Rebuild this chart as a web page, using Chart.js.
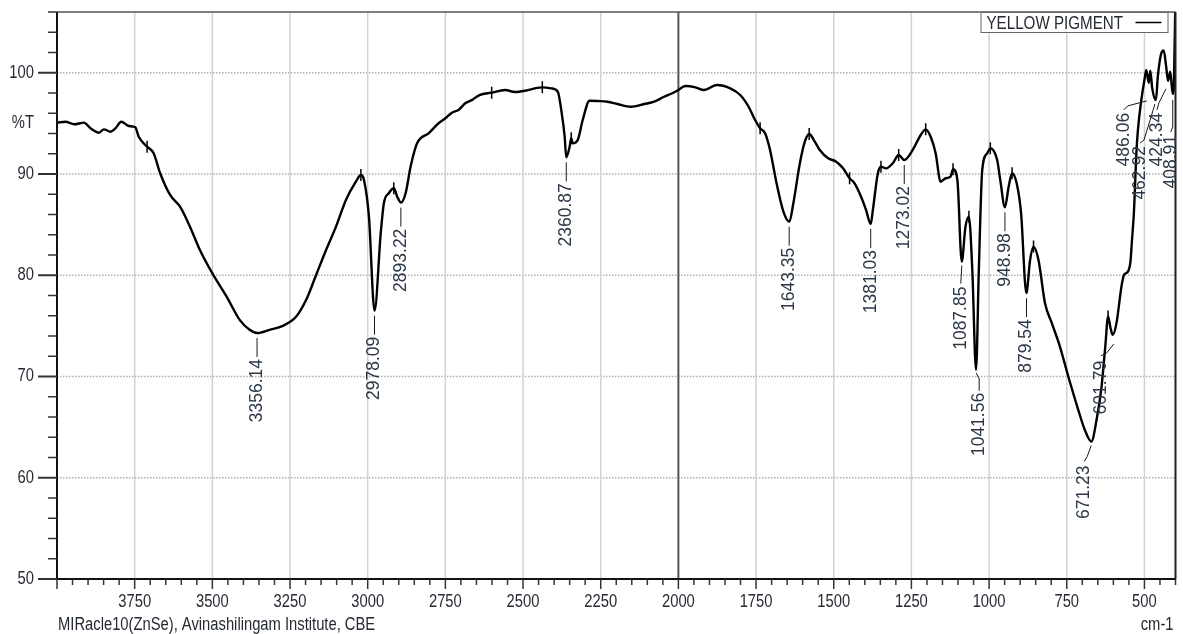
<!DOCTYPE html>
<html>
<head>
<meta charset="utf-8">
<title>FTIR - Yellow Pigment</title>
<script src="https://cdn.jsdelivr.net/npm/chart.js@4.4.1/dist/chart.umd.min.js"></script>
<style>
  html, body { margin: 0; padding: 0; background: #fff; }
  #wrap { width: 1183px; height: 634px; }
</style>
</head>
<body>
<div id="wrap"><canvas id="ftirChart" width="1183" height="634"></canvas></div>
<script>
// spectrum (cm-1 / %T)
const wavenumbers = [
  4000, 3972, 3945, 3913, 3892, 3865, 3849, 3828, 3812, 3793, 3769, 3748, 3737, 3710, 3689, 3668,
  3636, 3604, 3572, 3540, 3497, 3454, 3412, 3380, 3356, 3316, 3273, 3230, 3198, 3166, 3134, 3102,
  3070, 3038, 3022, 3012, 2996, 2978, 2958, 2948, 2932, 2916, 2905, 2893, 2878, 2862, 2841, 2804,
  2772, 2750, 2729, 2708, 2686, 2665, 2640, 2601, 2558, 2526, 2494, 2462, 2438, 2409, 2388, 2377,
  2366, 2361, 2350, 2345, 2340, 2324, 2308, 2286, 2260, 2228, 2196, 2153, 2110, 2078, 2046, 2025,
  2004, 1977, 1945, 1918, 1876, 1833, 1801, 1774, 1753, 1737, 1721, 1705, 1684, 1662, 1643, 1630,
  1609, 1593, 1579, 1561, 1545, 1518, 1492, 1470, 1449, 1433, 1412, 1396, 1381, 1374, 1358, 1348,
  1332, 1310, 1291, 1273, 1246, 1220, 1204, 1188, 1172, 1156, 1140, 1124, 1116, 1102, 1088, 1076,
  1065, 1054, 1042, 1033, 1022, 1006, 996, 974, 964, 949, 937, 926, 910, 897, 880, 868,
  857, 841, 820, 798, 772, 745, 713, 692, 671, 654, 638, 626, 617, 609, 602, 590,
  574, 566, 553, 545, 540, 534, 532, 526, 521, 510, 500, 494, 486, 481, 475, 463,
  457, 446, 438, 430, 424, 417, 409, 405, 400
];
const transmittance = [
  95.07, 95.16, 94.91, 95.07, 94.51, 94.08, 94.41, 94.18, 94.51, 95.16, 94.74, 94.61, 93.68, 92.70, 92.05, 90.07,
  87.93, 86.77, 84.80, 82.50, 80.03, 77.89, 75.59, 74.61, 74.30, 74.61, 75.00, 75.92, 77.57, 80.03, 82.50, 84.80,
  87.44, 89.24, 89.90, 89.41, 85.79, 76.50, 84.15, 87.11, 88.10, 88.59, 87.76, 87.17, 88.10, 90.72, 93.03, 94.02,
  95.01, 95.50, 96.05, 96.32, 96.98, 97.30, 97.80, 98.03, 98.29, 98.10, 98.22, 98.46, 98.56, 98.46, 98.12, 96.32,
  93.68, 91.65, 92.70, 93.53, 93.03, 93.36, 95.33, 97.24, 97.21, 97.14, 96.91, 96.64, 96.91, 97.14, 97.63, 97.90,
  98.22, 98.69, 98.56, 98.29, 98.79, 98.46, 97.80, 96.64, 95.33, 94.51, 94.02, 92.37, 89.08, 86.28, 85.29, 87.11,
  91.06, 93.19, 93.95, 93.19, 92.37, 91.55, 91.22, 90.56, 89.58, 89.08, 87.76, 86.45, 85.07, 86.45, 90.07, 90.72,
  90.56, 91.06, 91.88, 91.38, 92.37, 93.85, 94.41, 93.68, 92.05, 89.24, 89.58, 89.74, 90.47, 89.41, 81.35, 84.80,
  85.79, 80.53, 70.66, 80.53, 90.40, 92.05, 92.54, 91.38, 89.41, 86.72, 88.75, 90.07, 88.92, 86.12, 78.23, 81.51,
  82.83, 81.51, 77.24, 75.27, 72.96, 70.00, 66.71, 64.74, 63.58, 65.72, 69.01, 72.96, 75.92, 74.77, 74.11, 75.27,
  78.88, 80.03, 80.36, 81.35, 83.49, 86.12, 87.44, 92.05, 94.34, 97.31, 99.28, 100.27, 99.00, 100.20, 98.50, 97.30,
  99.60, 101.90, 102.20, 100.60, 99.20, 100.10, 97.90, 99.00, 108.0
];

// little peak-pick ticks sitting on the trace
const markerWn = [3710, 3022, 2916, 2601, 2438, 2345, 1737, 1579, 1449, 1348, 1291, 1204, 1116, 1065, 996, 926, 857, 617];
const markerT = [92.70, 89.90, 88.59, 98.03, 98.56, 93.53, 94.51, 93.95, 89.58, 90.72, 91.88, 94.41, 90.47, 85.79, 92.54, 90.07, 82.83, 75.92];

// labelled peaks
const peakLabels = ['3356.14', '2978.09', '2893.22', '2360.87', '1643.35', '1381.03', '1273.02', '1087.85', '1041.56',
                    '948.98', '879.54', '671.23', '601.79', '486.06', '462.92', '424.34', '408.91'];
const peakWn = [3356.14, 2978.09, 2893.22, 2360.87, 1643.35, 1381.03, 1273.02, 1087.85, 1041.56,
                948.98, 879.54, 671.23, 601.79, 486.06, 462.92, 424.34, 408.91];
const peakT = [74.30, 76.50, 87.17, 91.65, 85.29, 85.07, 91.38, 81.35, 70.66,
               86.72, 78.23, 63.58, 74.11, 99.0, 97.3, 99.2, 97.9];

const xTickLabels = [3750, 3500, 3250, 3000, 2750, 2500, 2250, 2000, 1750, 1500, 1250, 1000, 750, 500];
const yTickLabels = [50, 60, 70, 80, 90, 100];
const yUnitAt = 95;

// leader lines + text position for each peak label (pixel offsets from the peak)
const STD = { lead: [[0, 5], [0, 24]], text: [0, 26] };
const labelLayout = [
  STD, STD, STD, STD, STD, STD, STD,
  { lead: [[0, 4], [-1, 22]], text: [-1, 25] },
  { lead: [[0, 3], [3, 9], [3, 21]], text: [3, 23] },
  STD, STD,
  { lead: [[0, 4], [-4, 15], [-7, 20]], text: [-7, 24] },
  { lead: [[1, 9], [-6, 18], [-12, 21]], text: [-12, 26] },
  { lead: [[-2, 18], [-21, 23], [-25, 27]], text: [-25, 30] },
  { lead: [[-1, 4], [-12, 40], [-16, 43]], text: [-16, 46] },
  { lead: [[-2, 8], [-9, 22], [-11, 29]], text: [-11, 32] },
  { lead: [[0, 6], [0, 33], [-2, 38]], text: [-2, 41] }
];

const SANS = "'Liberation Sans', Arial, sans-serif";
const SQUEEZE = 0.82; // the instrument software uses a narrow face
const TEXT = '#262b33';

function seg(ctx, x1, y1, x2, y2) {
  ctx.beginPath();
  ctx.moveTo(x1, y1);
  ctx.lineTo(x2, y2);
  ctx.stroke();
}

function narrowText(ctx, txt, x, y, align) {
  ctx.save();
  ctx.translate(x, y);
  ctx.scale(SQUEEZE, 1);
  ctx.textAlign = align;
  ctx.textBaseline = 'middle';
  ctx.fillText(txt, 0, 0);
  ctx.restore();
}

const spectrumDecor = {
  id: 'spectrumDecor',
  beforeDatasetsDraw(chart) {
    const { ctx, chartArea: a, scales: { x, y } } = chart;
    ctx.save();
    // dotted horizontal grid
    ctx.strokeStyle = '#b0b0b0';
    ctx.lineWidth = 1.5;
    ctx.setLineDash([1.5, 1.5]);
    yTickLabels.forEach(v => {
      if (v === 50) return;
      const py = y.getPixelForValue(v);
      seg(ctx, a.left, py, a.right, py);
    });
    ctx.setLineDash([]);
    // vertical grid, 2000 drawn darker
    xTickLabels.forEach(v => {
      const px = x.getPixelForValue(v);
      ctx.strokeStyle = v === 2000 ? '#555' : '#d2d2d2';
      ctx.lineWidth = v === 2000 ? 2 : 1.5;
      seg(ctx, px, a.top, px, a.bottom);
    });
    ctx.restore();
  },
  afterDatasetsDraw(chart) {
    const { ctx, chartArea: a, scales: { x, y } } = chart;
    ctx.save();

    // frame
    ctx.strokeStyle = '#555';
    ctx.lineWidth = 1.5;
    seg(ctx, a.left, a.top, a.right, a.top);
    ctx.strokeStyle = '#222';
    ctx.lineWidth = 2;
    seg(ctx, a.right, a.top, a.right, a.bottom);
    ctx.strokeStyle = '#111';
    seg(ctx, a.left, a.top, a.left, a.bottom + 1);
    seg(ctx, a.left, a.bottom, a.right, a.bottom);

    // y tick marks: long every 10, short every 2
    ctx.strokeStyle = '#333';
    for (let v = 50; v <= 106; v += 2) {
      const py = y.getPixelForValue(v);
      const len = v % 10 === 0 ? 19 : 9;
      ctx.lineWidth = v % 10 === 0 ? 2 : 1.5;
      seg(ctx, a.left - len, py, a.left, py);
    }
    // x tick marks every 50
    ctx.lineWidth = 1.5;
    for (let v = 400; v <= 4000; v += 50) {
      const px = x.getPixelForValue(v);
      const len = v % 250 === 0 ? 10 : 6;
      seg(ctx, px, a.bottom, px, a.bottom + len);
    }

    // axis labels from the scales' own ticks
    ctx.font = '18px ' + SANS;
    ctx.fillStyle = TEXT;
    y.ticks.forEach(t => {
      const txt = t.value === yUnitAt ? '%T' : String(t.value);
      narrowText(ctx, txt, a.left - 23, y.getPixelForValue(t.value), 'right');
    });
    x.ticks.forEach(t => {
      narrowText(ctx, String(t.value), x.getPixelForValue(t.value), a.bottom + 23, 'center');
    });

    // peak labels
    ctx.font = '17.5px ' + SANS;
    peakLabels.forEach((txt, i) => {
      const ax = x.getPixelForValue(peakWn[i]);
      const ay = y.getPixelForValue(peakT[i]);
      const lay = labelLayout[i];
      ctx.strokeStyle = '#1a1a1a';
      ctx.lineWidth = 1;
      ctx.beginPath();
      lay.lead.forEach((p, k) => {
        if (k === 0) ctx.moveTo(ax + p[0], ay + p[1]);
        else ctx.lineTo(ax + p[0], ay + p[1]);
      });
      ctx.stroke();
      ctx.save();
      ctx.translate(ax + lay.text[0], ay + lay.text[1]);
      ctx.rotate(-Math.PI / 2);
      ctx.fillStyle = '#2c3848';
      ctx.textAlign = 'right';
      ctx.textBaseline = 'middle';
      ctx.fillText(txt, 0, 0);
      ctx.restore();
    });

    // legend box in the top-right corner
    const ds = chart.data.datasets[0];
    const boxR = a.right - 8, boxT = a.top + 0.5, boxH = 20, boxW = 187;
    const boxL = boxR - boxW;
    ctx.fillStyle = '#fff';
    ctx.fillRect(boxL, boxT, boxW, boxH);
    ctx.strokeStyle = '#666';
    ctx.lineWidth = 1;
    ctx.strokeRect(boxL + 0.5, boxT, boxW, boxH);
    ctx.font = '18.5px ' + SANS;
    ctx.fillStyle = TEXT;
    narrowText(ctx, ds.label, boxL + 6, boxT + boxH / 2 + 1, 'left');
    ctx.strokeStyle = ds.borderColor;
    ctx.lineWidth = 1.5;
    seg(ctx, boxR - 32, boxT + boxH / 2, boxR - 6, boxT + boxH / 2);

    // footer texts
    ctx.font = '18px ' + SANS;
    ctx.fillStyle = TEXT;
    narrowText(ctx, 'MIRacle10(ZnSe), Avinashilingam Institute, CBE', a.left + 1, 625, 'left');
    narrowText(ctx, 'cm-1', a.right - 2, 625, 'right');

    ctx.restore();
  }
};

const ctx = document.getElementById('ftirChart').getContext('2d');
new Chart(ctx, {
  type: 'line',
  data: {
    datasets: [
      {
        label: 'YELLOW PIGMENT',
        data: wavenumbers.map((w, i) => ({ x: w, y: transmittance[i] })),
        borderColor: '#000',
        borderWidth: 2.4,
        pointRadius: 0,
        fill: false,
        cubicInterpolationMode: 'monotone'
      },
      {
        label: 'markers',
        data: markerWn.map((w, i) => ({ x: w, y: markerT[i] })),
        showLine: false,
        pointStyle: 'line',
        rotation: 90,
        pointRadius: 6,
        borderColor: '#000',
        borderWidth: 1.5
      }
    ]
  },
  options: {
    responsive: false,
    animation: false,
    devicePixelRatio: 1,
    layout: { padding: { top: 12, right: 2, left: 0, bottom: 0 } },
    plugins: { legend: { display: false }, tooltip: { enabled: false } },
    scales: {
      x: {
        type: 'linear',
        reverse: true,
        min: 400,
        max: 4000,
        afterBuildTicks: s => { s.ticks = xTickLabels.map(v => ({ value: v })); },
        afterFit: s => { s.height = 55; s.paddingLeft = 0; s.paddingRight = 0; },
        grid: { display: false, drawTicks: false },
        border: { display: false },
        ticks: { display: false, autoSkip: false }
      },
      y: {
        min: 50,
        max: 106,
        afterBuildTicks: s => {
          s.ticks = yTickLabels.concat([yUnitAt]).sort((p, q) => p - q).map(v => ({ value: v }));
        },
        afterFit: s => { s.width = 57; s.paddingTop = 0; s.paddingBottom = 0; },
        grid: { display: false, drawTicks: false },
        border: { display: false },
        ticks: { display: false, autoSkip: false }
      }
    }
  },
  plugins: [spectrumDecor]
});
</script>
</body>
</html>
